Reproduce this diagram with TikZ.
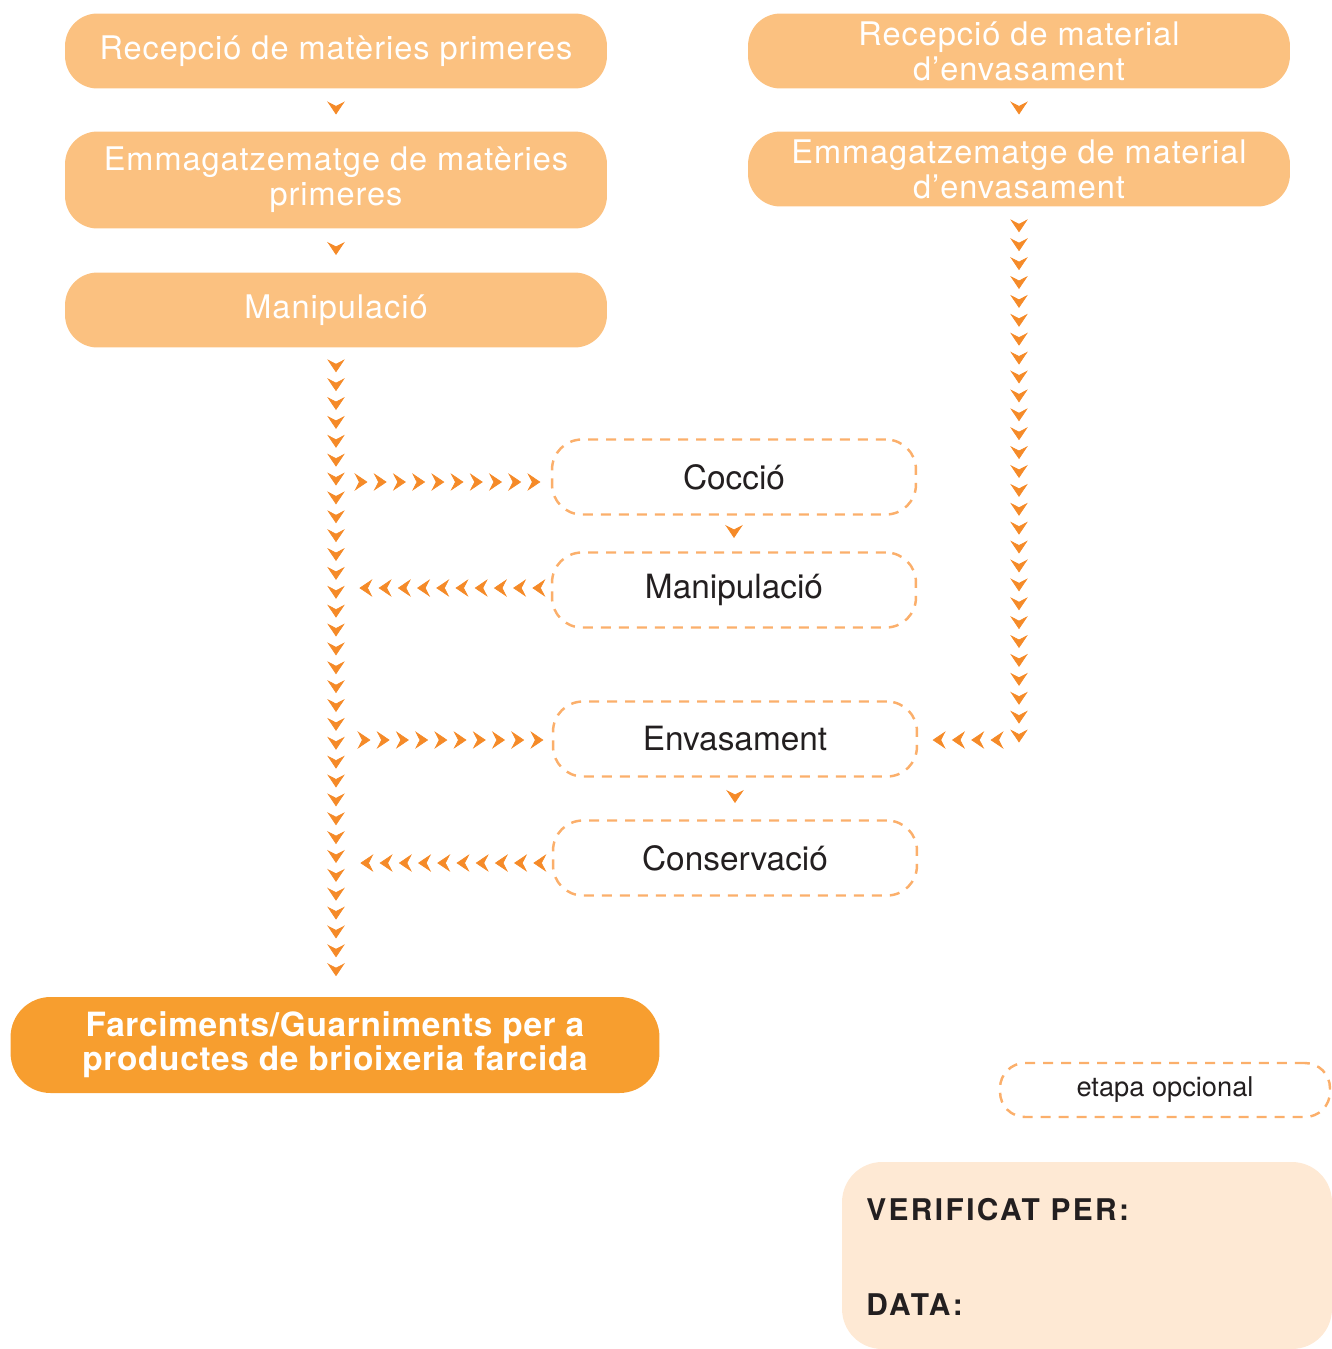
\documentclass[tikz,border=0pt]{standalone}
\usepackage{fontspec}
\setmainfont{TeX Gyre Heros}
\newfontfamily\stagefont[LetterSpace=3]{TeX Gyre Heros}
\newfontfamily\resultfont[LetterSpace=2]{TeX Gyre Heros}
\newfontfamily\verifyfont[LetterSpace=8]{TeX Gyre Heros}
\usepackage{tikz}
\usetikzlibrary{arrows.meta,decorations.markings}

\definecolor{stagefill}{HTML}{FBC180}
\definecolor{resultfill}{HTML}{F79E2F}
\definecolor{dashline}{HTML}{FBAF6B}
\definecolor{arrowcol}{HTML}{F58A28}
\definecolor{verifyfill}{HTML}{FEE9D4}
\definecolor{textdark}{HTML}{231F20}

\tikzset{
	chev/.tip={Stealth[length=0.26cm,width=0.35cm,inset=0.09cm]},
	chain/.style n args={3}{decoration={markings,
		mark=between positions #1 and #2 step #3 with {\pgftransformxshift{0.09cm}\arrow[arrowcol]{chev}}},
		postaction={decorate}},
	onehead/.style={decoration={markings,
		mark=at position 0.5 with {\pgftransformxshift{0.09cm}\arrow[arrowcol]{chev}}},
		postaction={decorate}}
}

\begin{document}
\begin{tikzpicture}[x=0.02cm,y=-0.02cm]
	\tikzstyle{stage}=[rectangle, rounded corners=0.65cm, fill=stagefill, text=white, minimum width=10.84cm, minimum height=1.5cm, align=center, font=\stagefont\fontsize{18.5}{20}\selectfont]
	\tikzstyle{optional}=[rectangle, rounded corners=0.6cm, draw=dashline, line width=1.4pt, dash pattern=on 0.2cm off 0.16cm, minimum width=7.28cm, minimum height=1.5cm, text=textdark, font=\fontsize{19}{21}\selectfont]
	\tikzstyle{result}=[rectangle, rounded corners=0.8cm, fill=resultfill, text=white, minimum width=12.98cm, minimum height=1.92cm, align=center, font=\resultfont\bfseries\fontsize{19}{19.5}\selectfont]
	\useasboundingbox (0,0) rectangle (1332,1349);

	% main line
	\node[stage] (rec1) at (336,51) {Recepció de matèries primeres};
	\node[stage, minimum height=1.94cm] (emm1) at (336,180) {Emmagatzematge de matèries\\primeres};
	\node[stage] (manip1) at (336,310) {Manipulació};

	% packaging material
	\node[stage] (rec2) at (1019,51) {Recepció de material\\d’envasament};
	\node[stage] (emm2) at (1019,169) {Emmagatzematge de material\\d’envasament};

	% optional steps
	\node[optional] (coccio) at (734,477) {Cocció};
	\node[optional] (manip2) at (734,590) {Manipulació};
	\node[optional] (envas) at (735,739) {Envasament};
	\node[optional] (cons) at (735,858) {Conservació};

	\node[result] (final) at (335,1045) {Farciments/Guarniments per a\\productes de brioixeria farcida};

	% legend and check box
	\node[optional, minimum width=6.6cm, minimum height=1.08cm, rounded corners=0.5cm, font=\fontsize{15.5}{17}\selectfont] (legend) at (1165,1090) {etapa opcional};
	\node[rectangle, rounded corners=0.8cm, fill=verifyfill, minimum width=9.8cm, minimum height=3.74cm] (verify) at (1087,1255.5) {};
	\node[anchor=base west, inner sep=0pt, text=textdark, font=\verifyfont\bfseries\fontsize{17}{18}\selectfont] (verper) at (866,1220) {VERIFICAT PER:};
	\node[anchor=base west, inner sep=0pt, text=textdark, font=\verifyfont\bfseries\fontsize{17}{18}\selectfont] (data) at (866,1315) {DATA:};

	\path[onehead] (rec1) -- (emm1);
	\path[onehead] (emm1) -- (manip1);
	\path[onehead] (rec2) -- (emm2);
	\path[onehead] (coccio) -- (manip2);
	\path[onehead] (envas) -- (cons);

	\path[chain={0.4cm}{12.5cm}{0.3775cm}] (manip1.south) -- (manip1.south |- final.north);
	\path[chain={0.42cm}{1}{0.378cm}] (emm2.south) -- (emm2.south |- envas.east);
	\path[chain={0.54cm}{4.05cm}{0.3844cm}] ([yshift=-0.1cm]manip1.south |- coccio.west) -- ([yshift=-0.1cm]coccio.west);
	\path[chain={0.28cm}{3.8cm}{0.3844cm}] ([yshift=0.04cm]manip2.west) -- ([yshift=0.04cm]manip1.south |- manip2.west);
	\path[chain={0.6cm}{4.1cm}{0.3844cm}] ([yshift=-0.02cm]manip1.south |- envas.west) -- ([yshift=-0.02cm]envas.west);
	\path[chain={0.28cm}{3.8cm}{0.3844cm}] ([yshift=-0.1cm]cons.west) -- ([yshift=-0.1cm]manip1.south |- cons.west);
	\path[chain={0.48cm}{1.7cm}{0.386cm}] ([yshift=-0.02cm]emm2.south |- envas.east) -- ([yshift=-0.02cm]envas.east);

\end{tikzpicture}
\end{document}
